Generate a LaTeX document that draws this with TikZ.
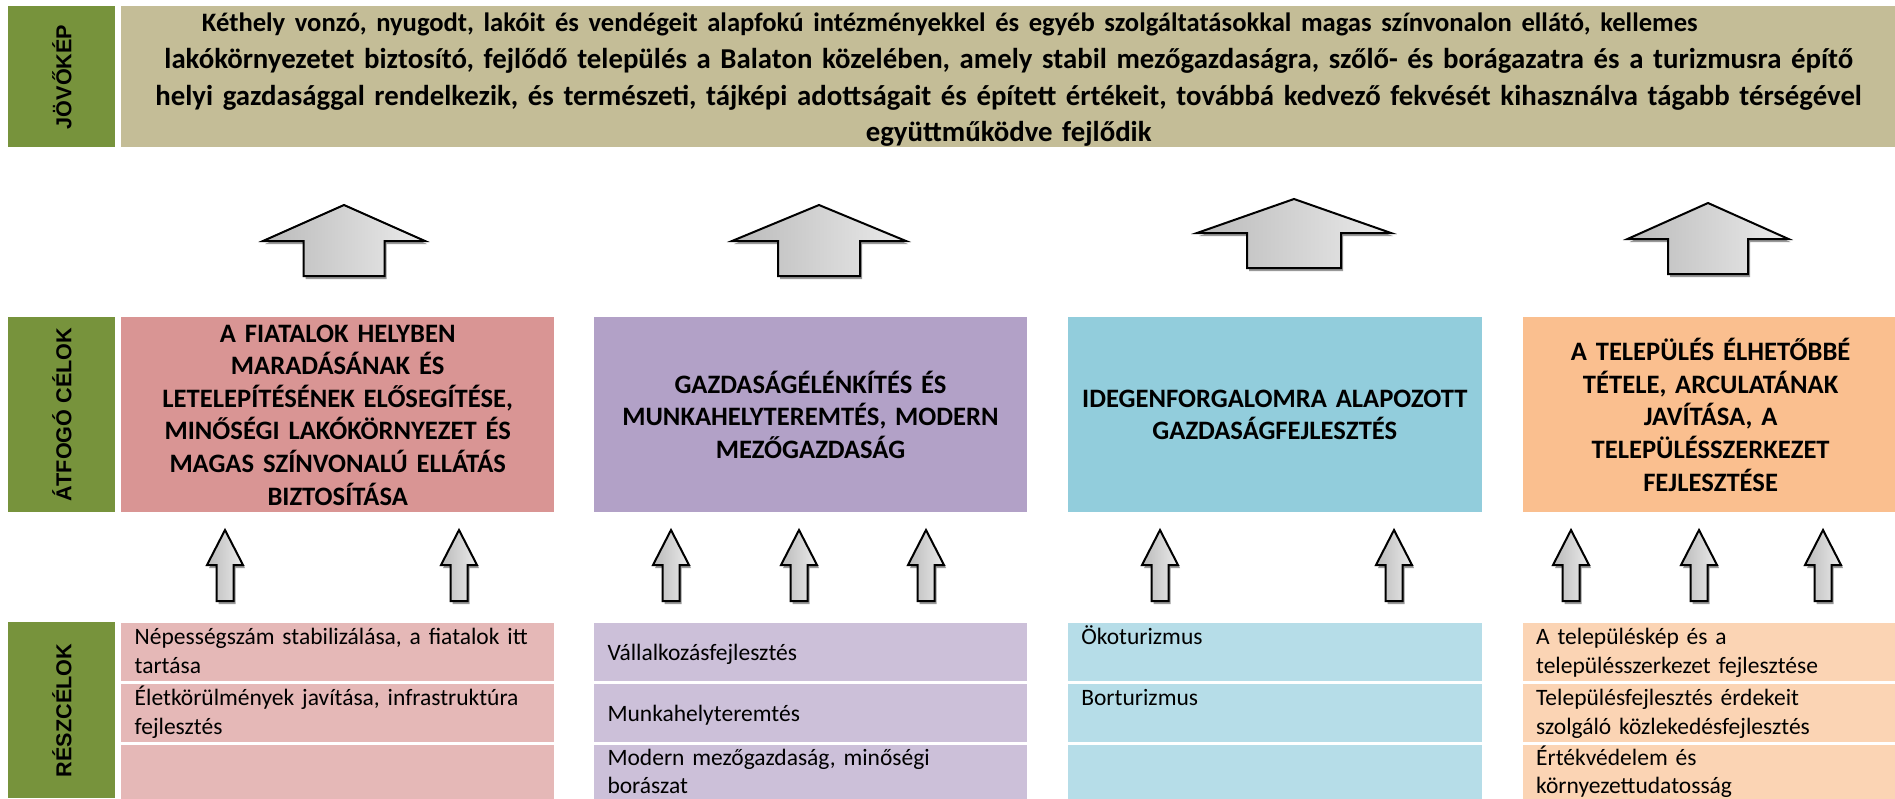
\documentclass[tikz,border=0pt]{standalone}
\usepackage{fontspec}
\setmainfont{Carlito}
\newfontfamily\sidefont{Liberation Sans}
\usepackage{tikz}
\usetikzlibrary{positioning}

\definecolor{sidegreen}{HTML}{77933C}
\definecolor{visionbg}{HTML}{C4BD97}
\definecolor{pinkgoal}{HTML}{D99594}
\definecolor{pinkrow}{HTML}{E5B8B7}
\definecolor{purplegoal}{HTML}{B2A1C7}
\definecolor{purplerow}{HTML}{CCC0D9}
\definecolor{bluegoal}{HTML}{92CDDC}
\definecolor{bluerow}{HTML}{B6DDE8}
\definecolor{orangegoal}{HTML}{FABF8F}
\definecolor{orangerow}{HTML}{FBD4B4}

\newcommand{\celltext}[2][t]{\begin{minipage}[c][28pt][#1]{\linewidth}\rule{0pt}{10.3pt}#2\end{minipage}}

\tikzset{
	sidebox/.style={fill=sidegreen,inner sep=0pt,minimum width=53.5pt,font=\sidefont\fontsize{10.8}{12}\selectfont\bfseries},
	goalbox/.style={inner sep=0pt,text width=#1,minimum height=97.5pt,align=center,font=\fontsize{13.3}{16.3}\selectfont\bfseries},
	rowbox/.style={inner xsep=6.75pt,inner ysep=0pt,text width=#1,minimum height=29pt,font=\fontsize{11.75}{14.25}\selectfont},
	pics/blockarrow/.style n args={4}{code={
		\path[fill=black!40,xshift=1pt,yshift=-1.5pt] (0,0) -- (#1,#3) -- (#2,#3) -- (#2,#4) -- (-#2,#4) -- (-#2,#3) -- (-#1,#3) -- cycle;
		\path[draw=black,line width=1pt,left color=black!27,right color=black!8] (0,0) -- (#1,#3) -- (#2,#3) -- (#2,#4) -- (-#2,#4) -- (-#2,#3) -- (-#1,#3) -- cycle;
	}}
}

\begin{document}
\begin{tikzpicture}[x=0.5pt,y=-0.5pt]
	\useasboundingbox (0,0) rectangle (1895,798);

	\begin{scope}
		\node[sidebox,minimum height=70.5pt,anchor=north west] (jov) at (8,6) {\rotatebox{90}{JÖVŐKÉP}};
		\node[fill=visionbg,inner sep=0pt,text width=887.5pt,text height=12.5pt,text depth=58pt,align=center,font=\fontsize{14.4}{18.4}\selectfont\bfseries]
			(vision) [right=2.5pt of jov.north east,anchor=north west]
			{{\fontsize{13.3}{18.4}\selectfont Kéthely vonzó, nyugodt, lakóit és vendégeit alapfokú intézményekkel és egyéb szolgáltatásokkal magas színvonalon ellátó, kellemes}\hspace*{59pt}\null\\
			lakókörnyezetet biztosító, fejlődő település a Balaton közelében, amely stabil mezőgazdaságra, szőlő- és borágazatra és a turizmusra építő\\
			helyi gazdasággal rendelkezik, és természeti, tájképi adottságait és épített értékeit, továbbá kedvező fekvését kihasználva tágabb térségével\\
			együttműködve fejlődik};
	\end{scope}

	\begin{scope}
		\node[sidebox,minimum height=97.5pt,anchor=north west] (atf) at (8,317) {\rotatebox{90}{ÁTFOGÓ CÉLOK}};
		\node[goalbox=216.5pt,fill=pinkgoal] (g1) [right=2.5pt of atf.north east,anchor=north west]
			{A FIATALOK HELYBEN\\MARADÁSÁNAK ÉS\\LETELEPÍTÉSÉNEK ELŐSEGÍTÉSE,\\MINŐSÉGI LAKÓKÖRNYEZET ÉS\\MAGAS SZÍNVONALÚ ELLÁTÁS\\BIZTOSÍTÁSA};
		\node[goalbox=216.5pt,fill=purplegoal] (g2) [right=19.5pt of g1.north east,anchor=north west]
			{GAZDASÁGÉLÉNKÍTÉS ÉS\\MUNKAHELYTEREMTÉS, MODERN\\MEZŐGAZDASÁG};
		\node[goalbox=207pt,fill=bluegoal] (g3) [right=20pt of g2.north east,anchor=north west]
			{IDEGENFORGALOMRA ALAPOZOTT\\GAZDASÁGFEJLESZTÉS};
		\node[goalbox=188pt,fill=orangegoal] (g4) [right=20pt of g3.north east,anchor=north west]
			{\parbox{152pt}{\centering A TELEPÜLÉS ÉLHETŐBBÉ\\TÉTELE, ARCULATÁNAK\\JAVÍTÁSA, A\\TELEPÜLÉSSZERKEZET\\FEJLESZTÉSE}\hspace*{36pt}};
	\end{scope}

	\begin{scope}
		\node[sidebox,minimum height=88pt,anchor=north west] (resz) at (8,622) {\rotatebox{90}{RÉSZCÉLOK}};

		\node[rowbox=203pt,fill=pinkrow] (p1) [below=55pt of g1.south west,anchor=north west]
			{\celltext{Népességszám stabilizálása, a fiatalok itt\\tartása}};
		\node[rowbox=203pt,fill=pinkrow] (p2) [below=1pt of p1.south west,anchor=north west]
			{\celltext{Életkörülmények javítása, infrastruktúra\\fejlesztés}};
		\node[rowbox=203pt,fill=pinkrow,minimum height=28pt] (p3) [below=1pt of p2.south west,anchor=north west]
			{\celltext{}};

		\node[rowbox=203pt,fill=purplerow] (q1) [below=55pt of g2.south west,anchor=north west]
			{\celltext[c]{Vállalkozásfejlesztés}};
		\node[rowbox=203pt,fill=purplerow] (q2) [below=1pt of q1.south west,anchor=north west]
			{\celltext[c]{Munkahelyteremtés}};
		\node[rowbox=203pt,fill=purplerow,minimum height=28pt] (q3) [below=1pt of q2.south west,anchor=north west]
			{\celltext{Modern mezőgazdaság, minőségi\\borászat}};

		\node[rowbox=193.5pt,fill=bluerow] (b1) [below=55pt of g3.south west,anchor=north west]
			{\celltext{Ökoturizmus}};
		\node[rowbox=193.5pt,fill=bluerow] (b2) [below=1pt of b1.south west,anchor=north west]
			{\celltext{Borturizmus}};
		\node[rowbox=193.5pt,fill=bluerow,minimum height=28pt] (b3) [below=1pt of b2.south west,anchor=north west]
			{\celltext{}};

		\node[rowbox=174.5pt,fill=orangerow] (o1) [below=55pt of g4.south west,anchor=north west]
			{\celltext{A településkép és a\\településszerkezet fejlesztése}};
		\node[rowbox=174.5pt,fill=orangerow] (o2) [below=1pt of o1.south west,anchor=north west]
			{\celltext{Településfejlesztés érdekeit\\szolgáló közlekedésfejlesztés}};
		\node[rowbox=174.5pt,fill=orangerow,minimum height=28pt] (o3) [below=1pt of o2.south west,anchor=north west]
			{\celltext{Értékvédelem és\\környezettudatosság}};
	\end{scope}

	% block arrows
	\foreach \x/\y/\w/\s/\h/\l in {344/205/81/40.5/36/71,819/205/87/41/36/71,1294/199/97/47/34/69,1708/203/80.5/40/36/71}
		\pic at (\x,\y) {blockarrow={\w}{\s}{\h}{\l}};
	\foreach \x in {225,459,671,799,926,1160,1394,1571,1699,1823}
		\pic at (\x,530) {blockarrow={18}{8.5}{35}{71}};
\end{tikzpicture}
\end{document}
